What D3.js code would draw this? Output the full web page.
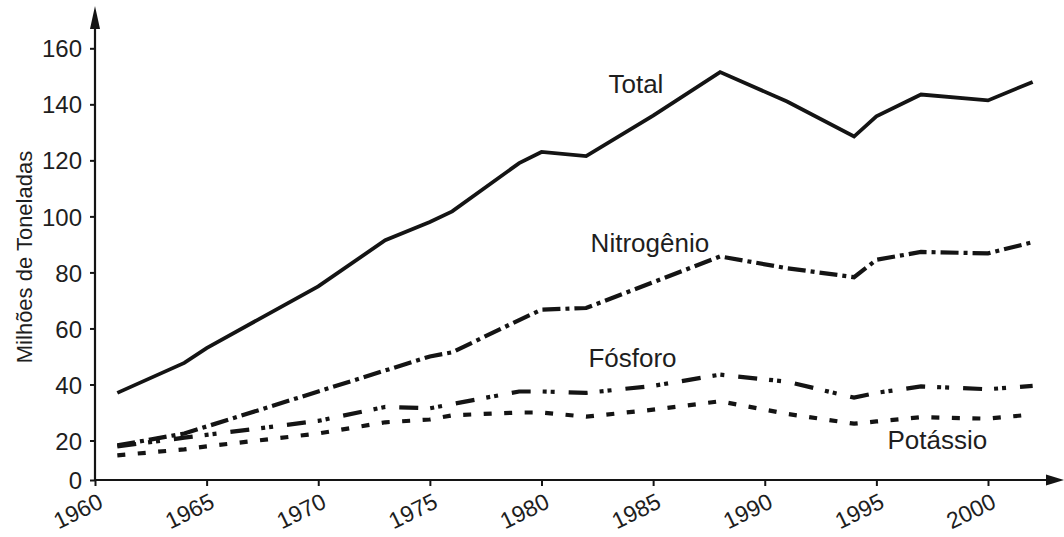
<!DOCTYPE html>
<html>
<head>
<meta charset="utf-8">
<script src="https://cdn.jsdelivr.net/npm/d3@7"></script>
<style>
  html, body { margin: 0; padding: 0; background: #fff; }
  svg { display: block; }
  text { font-family: "Liberation Sans", Arial, sans-serif; fill: #1e1e1e; }
</style>
</head>
<body>
<svg id="chart" width="1064" height="537"></svg>
<script>
// ---- data ----
const years = [1961, 1964, 1965, 1970, 1973, 1975, 1976, 1979, 1980, 1982, 1985, 1988, 1991, 1994, 1995, 1997, 2000, 2002];
const total      = [37, 47.7, 53, 75, 91.5, 98, 101.8, 119, 123, 121.5, 136, 151.5, 141, 128.5, 135.7, 143.5, 141.4, 148];
const nitrogenio = [17.5, 22.5, 25, 37.5, 45, 50, 51.5, 63, 66.7, 67.3, 76.5, 85.7, 81.5, 78.3, 84.5, 87.3, 86.8, 90.8];
const fosforo    = [17, 21, 22, 27, 32, 31.5, 33, 37.5, 37.5, 37, 39.5, 43.5, 41, 35.3, 37, 39.3, 38.3, 39.5];
const potassio   = [12.5, 15.5, 17, 22.5, 26.5, 27.5, 29, 30, 30, 28.5, 31, 34, 29.5, 26, 26.8, 28.3, 27.8, 29.3];
const seriesNames = ["Total", "Nitrogênio", "Fósforo", "Potássio"];
const xTicks = [1960, 1965, 1970, 1975, 1980, 1985, 1990, 1995, 2000];
const yTicks = [0, 20, 40, 60, 80, 100, 120, 140, 160];
const yTitle = "Milhões de Toneladas";

// ---- layout ----
const svg = d3.select("#chart");
const x = d3.scaleLinear().domain([1960, 2000]).range([95, 988]);
const y = d3.scaleLinear().domain([0, 20, 160]).range([480, 440.5, 48.3]);
const ink = "#141414";

// axes
const gx = svg.append("g").attr("transform", `translate(0,${y(0)})`)
  .call(d3.axisBottom(x).tickValues(xTicks).tickSize(6).tickFormat(d3.format("d")));
gx.select(".domain").remove();
gx.selectAll(".tick line").attr("stroke", ink).attr("stroke-width", 2);
gx.selectAll(".tick text")
  .attr("font-size", 23).attr("text-anchor", "end").attr("fill", "#1e1e1e")
  .attr("x", 0).attr("y", 0).attr("dy", 0)
  .attr("transform", "translate(9,27) rotate(-26)");

const gy = svg.append("g").attr("transform", `translate(${x(1960)},0)`)
  .call(d3.axisLeft(y).tickValues(yTicks).tickSize(5).tickPadding(8));
gy.select(".domain").remove();
gy.selectAll(".tick line").attr("stroke", ink).attr("stroke-width", 2);
gy.selectAll(".tick text").attr("font-size", 24).attr("fill", "#1e1e1e").attr("dy", "0.36em");

// axis lines with arrows
const x0 = x(1960), yb = y(0);
svg.append("line").attr("x1", x0).attr("x2", 1047).attr("y1", yb).attr("y2", yb)
  .attr("stroke", ink).attr("stroke-width", 2.2);
svg.append("path").attr("d", `M1046,${yb-5.5} L1064,${yb} L1046,${yb+5.5} Z`).attr("fill", ink);
svg.append("line").attr("x1", x0).attr("x2", x0).attr("y1", yb).attr("y2", 27)
  .attr("stroke", ink).attr("stroke-width", 2.2);
svg.append("path").attr("d", `M${x0-5},29 L${x0},6 L${x0+5},29 Z`).attr("fill", ink);

// y title
svg.append("text").attr("transform", `translate(32,257) rotate(-90)`)
  .attr("text-anchor", "middle").attr("font-size", 22).text(yTitle);

// series
const line = d3.line().x((d, i) => x(years[i])).y(d => y(d));
const styles = [
  { data: total, dash: null, w: 3.8 },
  { data: nitrogenio, dash: "18,5,4,5", w: 4.2 },
  { data: fosforo, dash: "19,12,4,4,4,14", w: 4.2 },
  { data: potassio, dash: "8,12.5", w: 4.2 }
];
styles.forEach(s => {
  svg.append("path").attr("d", line(s.data))
    .attr("fill", "none").attr("stroke", ink).attr("stroke-width", s.w)
    .attr("stroke-dasharray", s.dash).attr("stroke-linejoin", "miter");
});

// series labels
const labelPos = [
  { t: seriesNames[0], yr: 1983.0, v: 144.2 },
  { t: seriesNames[1], yr: 1982.2, v: 87.3 },
  { t: seriesNames[2], yr: 1982.1, v: 46.2 },
  { t: seriesNames[3], yr: 1995.5, v: 15.6 }
];
svg.selectAll("text.lbl").data(labelPos).enter().append("text")
  .attr("class", "lbl").attr("x", d => x(d.yr)).attr("y", d => y(d.v))
  .attr("font-size", 26).text(d => d.t);
</script>
</body>
</html>
